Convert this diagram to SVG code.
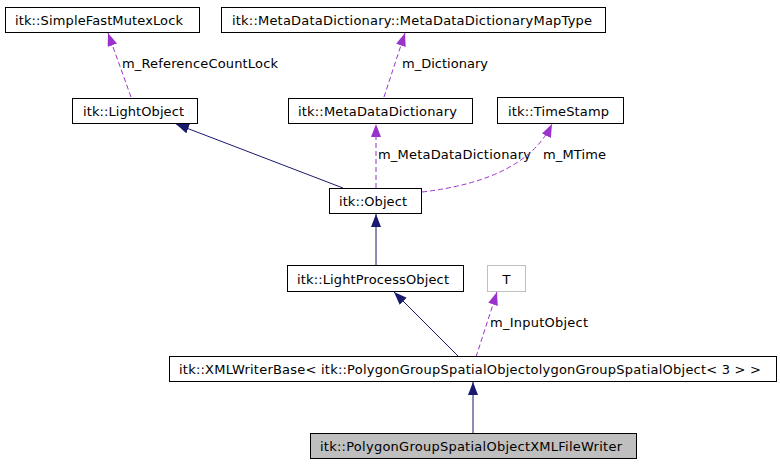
<svg xmlns="http://www.w3.org/2000/svg" width="780" height="464" viewBox="0 0 780 464">
<style>
text{font-family:"DejaVu Sans","Liberation Sans",sans-serif;font-size:13px;fill:#000}
.box{fill:#fff;stroke:#000;stroke-width:1}
.gray{fill:#fff;stroke:#bfbfbf;stroke-width:1}
.cur{fill:#bfbfbf;stroke:#000;stroke-width:1}
.inh{fill:none;stroke:#191970;stroke-width:1}
.use{fill:none;stroke:#9a32cd;stroke-width:1;stroke-dasharray:5,3}
</style>
<defs>
<marker id="ah" markerUnits="userSpaceOnUse" markerWidth="14" markerHeight="10" refX="13" refY="5" orient="auto" viewBox="0 0 14 10"><path d="M0,0 L13,5 L0,10 z" fill="#191970"/></marker>
<marker id="ap" markerUnits="userSpaceOnUse" markerWidth="14" markerHeight="10" refX="13" refY="5" orient="auto" viewBox="0 0 14 10"><path d="M0,0 L13,5 L0,10 z" fill="#9a32cd"/></marker>
</defs>
<g id="edges">
<path class="use" d="M131,97 L108,33" marker-end="url(#ap)"/>
<text x="122" y="68" textLength="156">m_ReferenceCountLock</text>
<path class="use" d="M384,97 L405,33" marker-end="url(#ap)"/>
<text x="402" y="68" textLength="86">m_Dictionary</text>
<path class="inh" d="M343,188 L176,124" marker-end="url(#ah)"/>
<path class="use" d="M376,188 L376,124" marker-end="url(#ap)"/>
<text x="378" y="159" textLength="153">m_MetaDataDictionary</text>
<path class="use" d="M422,192 Q525,180 552,124" marker-end="url(#ap)"/>
<text x="543" y="159" textLength="63">m_MTime</text>
<path class="inh" d="M376,265 L376,214" marker-end="url(#ah)"/>
<path class="inh" d="M459,357 L394,292" marker-end="url(#ah)"/>
<path class="use" d="M476,357 L497,292" marker-end="url(#ap)"/>
<text x="490" y="327" textLength="98">m_InputObject</text>
<path class="inh" d="M473,434 L473,382" marker-end="url(#ah)"/>
</g>
<g id="SimpleFastMutexLock"><rect class="box" x="5.5" y="7.5" width="194" height="25"/><text x="15" y="25" textLength="168">itk::SimpleFastMutexLock</text></g>
<g id="MetaDataDictionaryMapType"><rect class="box" x="221.5" y="7.5" width="384" height="25"/><text x="232" y="25" textLength="360">itk::MetaDataDictionary::MetaDataDictionaryMapType</text></g>
<g id="LightObject"><rect class="box" x="72.5" y="98.5" width="125" height="25"/><text x="83" y="116" textLength="101">itk::LightObject</text></g>
<g id="MetaDataDictionary"><rect class="box" x="288.5" y="98.5" width="184" height="25"/><text x="298" y="116" textLength="159">itk::MetaDataDictionary</text></g>
<g id="TimeStamp"><rect class="box" x="497.5" y="97.5" width="126" height="26"/><text x="508" y="116" textLength="101">itk::TimeStamp</text></g>
<g id="Object"><rect class="box" x="329.5" y="188.5" width="92" height="25"/><text x="339" y="206" textLength="68">itk::Object</text></g>
<g id="LightProcessObject"><rect class="box" x="287.5" y="265.5" width="176" height="26"/><text x="297" y="284" textLength="152">itk::LightProcessObject</text></g>
<g id="T"><rect class="gray" x="487.5" y="265.5" width="38" height="26"/><text x="506.5" y="284" text-anchor="middle">T</text></g>
<g id="XMLWriterBase"><rect class="box" x="169.5" y="356.5" width="607" height="25"/><text x="179" y="374" textLength="582">itk::XMLWriterBase&lt; itk::PolygonGroupSpatialObjectolygonGroupSpatialObject&lt; 3 &gt; &gt;</text></g>
<g id="XMLFileWriter"><rect class="cur" x="310.5" y="433.5" width="326" height="25"/><text x="320" y="451" textLength="302">itk::PolygonGroupSpatialObjectXMLFileWriter</text></g>
</svg>
